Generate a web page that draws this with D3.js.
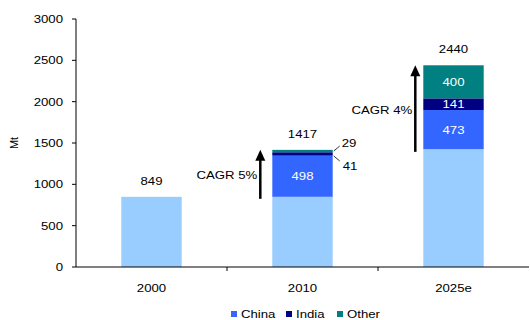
<!DOCTYPE html>
<html><head><meta charset="utf-8">
<script src="https://cdn.jsdelivr.net/npm/d3@7"></script>
<style>body{margin:0;background:#fff}svg{display:block}text{font-family:"Liberation Sans",Arial,sans-serif;fill:#000}</style>
</head><body><svg id="c" width="530" height="320"></svg>
<script>
const categories = ["2000", "2010", "2025e"];
const baseValues = [849, 849, 1426];
const chinaValues = [0, 498, 473];
const indiaValues = [0, 41, 141];
const otherValues = [0, 29, 400];
const totals = [849, 1417, 2440];
const yTicks = [0, 500, 1000, 1500, 2000, 2500, 3000];
const seriesNames = ["China", "India", "Other"];
const cagrLabels = ["", "CAGR 5%", "CAGR 4%"];

const colors = {base:"#99CCFF", China:"#3366FF", India:"#000080", Other:"#008080"};
const SX = 1.2, FS = 11;
const svg = d3.select("#c");
const x = d3.scaleBand().domain(categories).range([76, 529]).paddingInner(0.6).paddingOuter(0.3);
const y = d3.scaleLinear().domain([0, 3000]).range([267, 19]);

function txt(g, tx, ty, s, anchor, color, size) {
  return g.append("text").attr("transform", `translate(${tx},${ty}) scale(${SX},1)`)
    .attr("text-anchor", anchor || "middle").attr("font-size", size || FS)
    .style("fill", color || "#000").text(s);
}

// bars
const stacks = categories.map((c, i) => {
  const segs = [["base", baseValues[i]], ["China", chinaValues[i]], ["India", indiaValues[i]], ["Other", otherValues[i]]];
  let acc = 0;
  return segs.map(([k, v]) => { const s = {cat: c, key: k, v, y0: acc, y1: acc + v}; acc += v; return s; });
});
const gb = svg.append("g");
stacks.flat().filter(d => d.v > 0).forEach(d => {
  gb.append("rect").attr("x", x(d.cat)).attr("width", x.bandwidth())
    .attr("y", y(d.y1)).attr("height", y(d.y0) - y(d.y1)).attr("fill", colors[d.key]);
});

// inside labels
stacks.flat().filter(d => d.key !== "base" && d.v >= 100).forEach(d => {
  txt(svg, x(d.cat) + x.bandwidth() / 2, (y(d.y0) + y(d.y1)) / 2 + 4, String(d.v), "middle", "#fff");
});

// totals
categories.forEach((c, i) => {
  txt(svg, x(c) + x.bandwidth() / 2, y(totals[i]) - 12, String(totals[i]));
});

// small labels for 2010
{
  const c = categories[1], i = 1;
  const xr = x(c) + x.bandwidth();
  const yo = y(baseValues[i] + chinaValues[i] + indiaValues[i] + otherValues[i] / 2);
  const yi = y(baseValues[i] + chinaValues[i] + indiaValues[i] / 2);
  svg.append("line").attr("x1", xr + 1).attr("y1", yo).attr("x2", xr + 7).attr("y2", yo - 5).attr("stroke", "#000").attr("stroke-width", 0.8);
  svg.append("line").attr("x1", xr + 1).attr("y1", yi + 2).attr("x2", xr + 7).attr("y2", yi + 7).attr("stroke", "#000").attr("stroke-width", 0.8);
  txt(svg, xr + 9, yo - 4, String(otherValues[i]), "start");
  txt(svg, xr + 10, yi + 16, String(indiaValues[i]), "start");
}

// CAGR arrows
const arrowOffsets = [0, -12, -8];
[1, 2].forEach(i => {
  const c = categories[i];
  const ax = x(c) + arrowOffsets[i];
  const yb = y(totals[i - 1]) + 2;
  const yt = y(totals[i]);
  svg.append("line").attr("x1", ax).attr("x2", ax).attr("y1", yb).attr("y2", yt + 9)
    .attr("stroke", "#000").attr("stroke-width", 2.5);
  svg.append("path").attr("d", `M${ax - 5},${yt + 11} L${ax},${yt} L${ax + 5},${yt + 11} Z`).attr("fill", "#000");
  txt(svg, ax - 3, (yb + yt) / 2 + 5, cagrLabels[i], "end");
});

// y axis
const ya = svg.append("g").attr("transform", "translate(76,0)");
ya.append("line").attr("y1", y(0)).attr("y2", y(3000)).attr("stroke", "#000");
yTicks.forEach(t => {
  ya.append("line").attr("x1", -4).attr("x2", 0).attr("y1", y(t)).attr("y2", y(t)).attr("stroke", "#000");
  txt(ya, -13, y(t) + 4, String(t), "end");
});
svg.append("text").attr("transform", `translate(18,143) rotate(-90)`).attr("text-anchor", "middle")
  .attr("font-size", FS).text("Mt");

// x axis
const xa = svg.append("g");
xa.append("line").attr("x1", 76).attr("x2", 529).attr("y1", y(0)).attr("y2", y(0)).attr("stroke", "#000");
categories.forEach((c, i) => {
  const cx = x(c) + x.bandwidth() / 2;
  const tx = cx + x.step() / 2;
  if (i < categories.length - 1)
    xa.append("line").attr("x1", tx).attr("x2", tx).attr("y1", y(0)).attr("y2", y(0) + 4).attr("stroke", "#000");
  txt(xa, cx, 292, c);
});

// legend
const legX = [231, 286, 337];
seriesNames.forEach((n, i) => {
  svg.append("rect").attr("x", legX[i]).attr("y", 311).attr("width", 6).attr("height", 6).attr("fill", colors[n]);
  txt(svg, legX[i] + 10, 318, n, "start");
});
</script></body></html>
